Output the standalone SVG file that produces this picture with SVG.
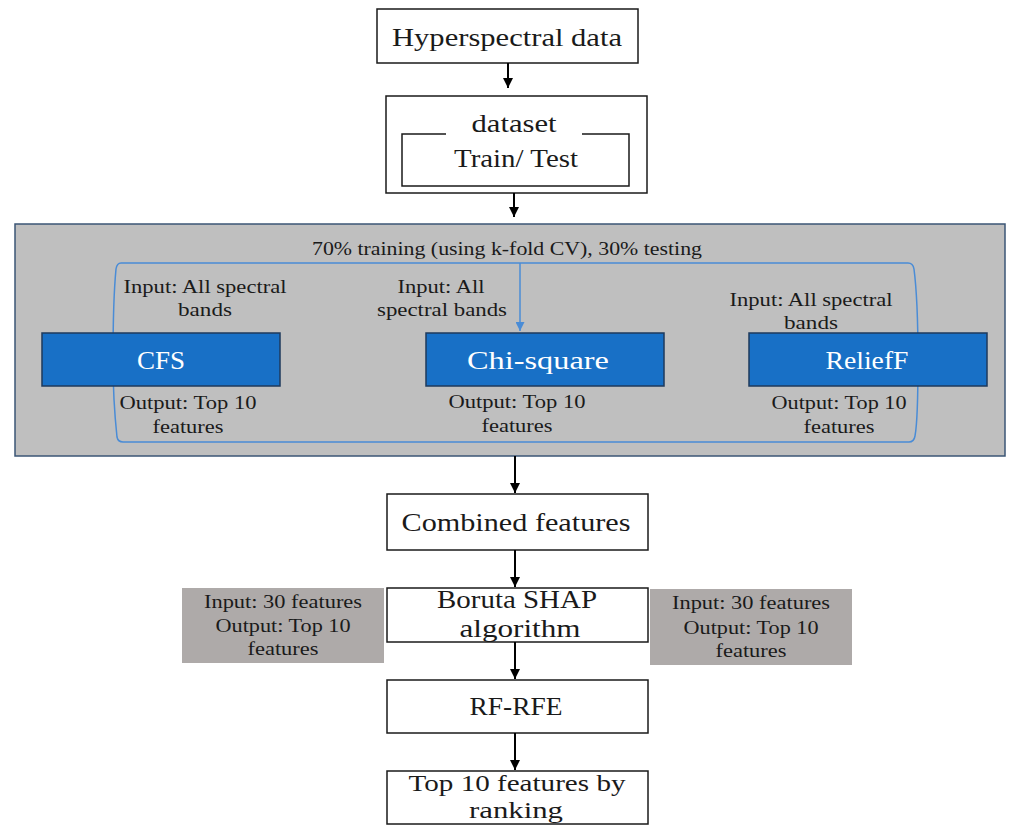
<svg xmlns="http://www.w3.org/2000/svg" width="1019" height="825" viewBox="0 0 1019 825">
  <style>
    .box { fill: #ffffff; stroke: #1a1a1a; stroke-width: 1.5; }
    .method { fill: #1870C6; stroke: #1E3A5C; stroke-width: 1.5; }
    .panel { fill: #BFBFBF; stroke: #3B5676; stroke-width: 1.5; }
    .note { fill: #AEAAA9; }
    .t { font-family: "Liberation Serif", "Times New Roman", serif; fill: #1a1a1a; text-anchor: middle; }
    .big { font-size: 26px; }
    .mid { font-size: 23px; }
    .small { font-size: 19px; }
    .white { fill: #ffffff; font-size: 25px; }
    .flow { stroke: #000000; stroke-width: 2; fill: none; marker-end: url(#arrow); }
    .blue { stroke: #4A8CD6; stroke-width: 1.5; fill: none; }
  </style>
  <defs>
    <marker id="arrow" viewBox="0 0 10 10" refX="10" refY="5" markerWidth="5" markerHeight="5" markerUnits="strokeWidth" orient="auto">
      <path d="M0,0 L10,5 L0,10 Z" fill="#000000"/>
    </marker>
    <marker id="arrowBlue" viewBox="0 0 10 10" refX="10" refY="5" markerWidth="6" markerHeight="6" markerUnits="strokeWidth" orient="auto">
      <path d="M0,0 L10,5 L0,10 Z" fill="#4A8CD6"/>
    </marker>
  </defs>

  <!-- input data -->
  <g id="hyperspectral">
    <rect class="box" x="377" y="9" width="261" height="54"/>
    <text class="t big" x="507" y="46" textLength="230" lengthAdjust="spacingAndGlyphs">Hyperspectral data</text>
  </g>

  <!-- dataset split -->
  <g id="dataset">
    <rect class="box" x="386" y="96" width="261" height="97"/>
    <path d="M446,134 H402 V186 H629 V134 H582" fill="none" stroke="#1a1a1a" stroke-width="1.5"/>
    <text class="t big" x="514" y="132" textLength="85" lengthAdjust="spacingAndGlyphs">dataset</text>
    <text class="t big" x="516" y="167" textLength="124" lengthAdjust="spacingAndGlyphs">Train/ Test</text>
  </g>

  <!-- filter-method panel -->
  <g id="filter-panel">
    <rect class="panel" x="15" y="224" width="990" height="232"/>
    <text class="t small" x="507" y="255" textLength="390" lengthAdjust="spacingAndGlyphs">70% training (using k-fold CV), 30% testing</text>
    <path class="blue" d="M121,263 H908 Q913,263 914,269 Q918,300 918,360 Q918,420 915,436 Q914,442 909,442 H123 Q118,442 117,437 Q113,400 113,360 Q113,300 116,269 Q117,263 121,263 Z"/>
    <line class="blue" x1="520" y1="263" x2="520" y2="331" marker-end="url(#arrowBlue)"/>
  </g>

  <g id="cfs">
    <rect class="method" x="42" y="333" width="238" height="53"/>
    <text class="t white" x="161" y="369" textLength="48" lengthAdjust="spacingAndGlyphs">CFS</text>
    <text class="t small" x="205" y="293" textLength="163" lengthAdjust="spacingAndGlyphs">Input: All spectral</text>
    <text class="t small" x="205" y="316" textLength="54" lengthAdjust="spacingAndGlyphs">bands</text>
    <text class="t small" x="188" y="409" textLength="137" lengthAdjust="spacingAndGlyphs">Output: Top 10</text>
    <text class="t small" x="188" y="433" textLength="71" lengthAdjust="spacingAndGlyphs">features</text>
  </g>

  <g id="chi-square">
    <rect class="method" x="426" y="333" width="238" height="53"/>
    <text class="t white" x="538" y="369" textLength="142" lengthAdjust="spacingAndGlyphs">Chi-square</text>
    <text class="t small" x="441" y="293" textLength="87" lengthAdjust="spacingAndGlyphs">Input: All</text>
    <text class="t small" x="442" y="316" textLength="130" lengthAdjust="spacingAndGlyphs">spectral bands</text>
    <text class="t small" x="517" y="408" textLength="137" lengthAdjust="spacingAndGlyphs">Output: Top 10</text>
    <text class="t small" x="517" y="432" textLength="71" lengthAdjust="spacingAndGlyphs">features</text>
  </g>

  <g id="relieff">
    <rect class="method" x="749" y="333" width="238" height="53"/>
    <text class="t white" x="867" y="369" textLength="83" lengthAdjust="spacingAndGlyphs">ReliefF</text>
    <text class="t small" x="811" y="306" textLength="163" lengthAdjust="spacingAndGlyphs">Input: All spectral</text>
    <text class="t small" x="811" y="329" textLength="54" lengthAdjust="spacingAndGlyphs">bands</text>
    <text class="t small" x="839" y="409" textLength="135" lengthAdjust="spacingAndGlyphs">Output: Top 10</text>
    <text class="t small" x="839" y="433" textLength="71" lengthAdjust="spacingAndGlyphs">features</text>
  </g>

  <g id="combined">
    <rect class="box" x="387" y="494" width="261" height="56"/>
    <text class="t big" x="516" y="531" textLength="229" lengthAdjust="spacingAndGlyphs">Combined features</text>
  </g>

  <g id="boruta">
    <rect class="box" x="387" y="588" width="261" height="54"/>
    <text class="t big" x="517" y="608" textLength="160" lengthAdjust="spacingAndGlyphs">Boruta SHAP</text>
    <text class="t big" x="520" y="637" textLength="121" lengthAdjust="spacingAndGlyphs">algorithm</text>
  </g>

  <g id="boruta-note-left">
    <rect class="note" x="182" y="588" width="202" height="75"/>
    <text class="t small" x="283" y="608" textLength="158" lengthAdjust="spacingAndGlyphs">Input: 30 features</text>
    <text class="t small" x="283" y="632" textLength="135" lengthAdjust="spacingAndGlyphs">Output: Top 10</text>
    <text class="t small" x="283" y="655" textLength="71" lengthAdjust="spacingAndGlyphs">features</text>
  </g>

  <g id="boruta-note-right">
    <rect class="note" x="650" y="589" width="202" height="76"/>
    <text class="t small" x="751" y="609" textLength="158" lengthAdjust="spacingAndGlyphs">Input: 30 features</text>
    <text class="t small" x="751" y="634" textLength="135" lengthAdjust="spacingAndGlyphs">Output: Top 10</text>
    <text class="t small" x="751" y="657" textLength="71" lengthAdjust="spacingAndGlyphs">features</text>
  </g>

  <g id="rf-rfe">
    <rect class="box" x="387" y="680" width="261" height="53"/>
    <text class="t big" x="516" y="715" textLength="93" lengthAdjust="spacingAndGlyphs">RF-RFE</text>
  </g>

  <g id="top-features">
    <rect class="box" x="387" y="771" width="261" height="53"/>
    <text class="t mid" x="517" y="791" textLength="217" lengthAdjust="spacingAndGlyphs">Top 10 features by</text>
    <text class="t mid" x="516" y="818" textLength="94" lengthAdjust="spacingAndGlyphs">ranking</text>
  </g>

  <!-- connectors -->
  <g id="connectors">
    <line class="flow" x1="508" y1="63" x2="508" y2="88"/>
    <line class="flow" x1="514" y1="193" x2="514" y2="217"/>
    <line class="flow" x1="515" y1="456" x2="515" y2="493"/>
    <line class="flow" x1="515" y1="550" x2="515" y2="587"/>
    <line class="flow" x1="515" y1="642" x2="515" y2="679"/>
    <line class="flow" x1="515" y1="733" x2="515" y2="770"/>
  </g>
</svg>
